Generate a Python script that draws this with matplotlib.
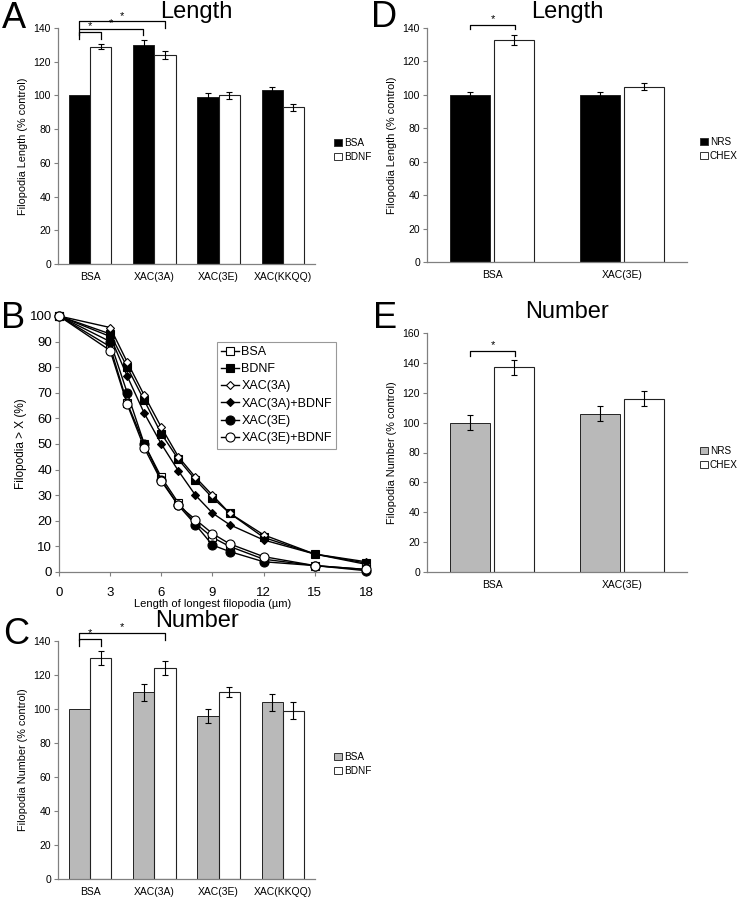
import numpy as np
import matplotlib
matplotlib.use('Agg')
import matplotlib.pyplot as plt
from matplotlib.patches import Patch

plt.rcParams['font.family'] = ['Liberation Sans', 'DejaVu Sans']

# --- data ---
groups4 = ['BSA', 'XAC(3A)', 'XAC(3E)', 'XAC(KKQQ)']
groups2 = ['BSA', 'XAC(3E)']

# A: filopodia length
lenA_bsa = [100, 130, 99, 103]
lenA_bsa_err = [0, 3, 2.5, 2]
lenA_bdnf = [129, 124, 100, 93]
lenA_bdnf_err = [1.5, 2.5, 2, 2]

# C: filopodia number
numC_bsa = [100, 110, 96, 104]
numC_bsa_err = [0, 5, 4, 5]
numC_bdnf = [130, 124, 110, 99]
numC_bdnf_err = [4, 4, 3, 5]

# D: length, NRS vs CHEX
lenD_nrs = [100, 100]
lenD_nrs_err = [2, 2]
lenD_chex = [133, 105]
lenD_chex_err = [3, 2]

# E: number, NRS vs CHEX
numE_nrs = [100, 106]
numE_nrs_err = [5, 5]
numE_chex = [137, 116]
numE_chex_err = [5, 5]

# B: cumulative distribution
cum_x = [0, 3, 4, 5, 6, 7, 8, 9, 10, 12, 15, 18]
cum_series = {
    'BSA':          [100, 88, 66, 50, 37, 27, 19, 13.5, 10, 5, 2.5, 1],
    'BDNF':         [100, 93, 80, 67, 54, 44, 36, 29, 23, 13.5, 7, 3.5],
    'XAC(3A)':      [100, 95.5, 82, 69, 56.5, 45, 37, 30, 23, 14.5, 7, 3],
    'XAC(3A)+BDNF': [100, 92, 76.5, 62, 50, 39.5, 30, 23, 18.5, 12.5, 7, 4],
    'XAC(3E)':      [100, 90, 70, 50, 36, 26, 18.5, 10.5, 8, 4, 2.5, 0.5],
    'XAC(3E)+BDNF': [100, 86.5, 65.5, 48.5, 35.5, 26, 20.5, 15, 11, 6, 2.5, 1],
}
cum_style = {
    'BSA':          dict(marker='s', mfc='white', ms=6),
    'BDNF':         dict(marker='s', mfc='black', ms=6),
    'XAC(3A)':      dict(marker='D', mfc='white', ms=4.5),
    'XAC(3A)+BDNF': dict(marker='D', mfc='black', ms=4.5),
    'XAC(3E)':      dict(marker='o', mfc='black', ms=6.5),
    'XAC(3E)+BDNF': dict(marker='o', mfc='white', ms=6.5),
}

W, H = 737, 900
fig = plt.figure(figsize=(W / 100, H / 100), dpi=100)


def px_axes(x0, y0, x1, y1):
    return fig.add_axes([x0 / W, 1 - y1 / H, (x1 - x0) / W, (y1 - y0) / H])


SPINE = '#808080'
GRAY = '#b9b9b9'


def style_bar_axes(ax, labels, ymax, ylabel):
    for s in ['top', 'right']:
        ax.spines[s].set_visible(False)
    for s in ['left', 'bottom']:
        ax.spines[s].set_color(SPINE)
        ax.spines[s].set_linewidth(0.9)
    ax.set_xlim(-0.5, len(labels) - 0.5)
    ax.set_ylim(0, ymax)
    ax.set_yticks(np.arange(0, ymax + 1, 20))
    ax.set_xticks(range(len(labels)))
    ax.set_xticklabels(labels)
    ax.tick_params(axis='x', length=0, labelsize=7.5, pad=6)
    ax.tick_params(axis='y', length=3, color=SPINE, labelsize=7.5, pad=2)
    ax.set_ylabel(ylabel, fontsize=7.8, labelpad=4)


def bracket(ax, x1, x2, y, d=4):
    ax.plot([x1, x1, x2, x2], [y - d, y, y, y - d], color='black', lw=0.9,
            clip_on=False)
    ax.text((x1 + x2) / 2, y + 0.5, '*', ha='center', va='bottom', fontsize=8)


def grouped(ax, v1, e1, v2, e2, c1, width, gap):
    x = np.arange(len(v1))
    ek = dict(ecolor='black', elinewidth=0.8, capsize=2.5, capthick=0.8)
    e1 = [e if e > 0 else np.nan for e in e1]
    ax.bar(x - width / 2 - gap / 2, v1, width, color=c1, edgecolor='#222222',
           linewidth=0.7, yerr=e1, error_kw=ek, zorder=2)
    ax.bar(x + width / 2 + gap / 2, v2, width, color='white', edgecolor='#222222',
           linewidth=0.8, yerr=e2, error_kw=ek, zorder=2)


def small_legend(labels, c1, x, y):
    handles = [Patch(facecolor=c1, edgecolor='#333333', linewidth=0.7),
               Patch(facecolor='white', edgecolor='#333333', linewidth=0.7)]
    fig.legend(handles, labels, loc='upper left', bbox_to_anchor=(x / W, 1 - y / H),
               frameon=False, fontsize=7.2, handlelength=0.75, handleheight=0.75,
               handletextpad=0.25, labelspacing=0.4, borderpad=0)


# --- A ---
axA = px_axes(58, 28, 315, 264)
grouped(axA, lenA_bsa, lenA_bsa_err, lenA_bdnf, lenA_bdnf_err, 'black', 0.33, 0)
style_bar_axes(axA, groups4, 140, 'Filopodia Length (% control)')
bracket(axA, -0.17, 0.17, 137.6, 4)
bracket(axA, -0.17, 0.83, 139.6, 4)
bracket(axA, -0.17, 1.17, 143.9, 4)
small_legend(['BSA', 'BDNF'], 'black', 329, 133)

# --- C ---
axC = px_axes(58, 641, 315, 879)
grouped(axC, numC_bsa, numC_bsa_err, numC_bdnf, numC_bdnf_err, GRAY, 0.33, 0)
style_bar_axes(axC, groups4, 140, 'Filopodia Number (% control)')
bracket(axC, -0.17, 0.17, 141.2, 4)
bracket(axC, -0.17, 1.17, 144.7, 4)
small_legend(['BSA', 'BDNF'], GRAY, 329, 747)

# --- D ---
axD = px_axes(427, 28, 687, 262)
grouped(axD, lenD_nrs, lenD_nrs_err, lenD_chex, lenD_chex_err, 'black', 0.31, 0.03)
style_bar_axes(axD, groups2, 140, 'Filopodia Length (% control)')
bracket(axD, -0.17, 0.18, 141.8, 2.6)
small_legend(['NRS', 'CHEX'], 'black', 695, 132)

# --- E ---
axE = px_axes(427, 333, 687, 572)
grouped(axE, numE_nrs, numE_nrs_err, numE_chex, numE_chex_err, GRAY, 0.31, 0.03)
style_bar_axes(axE, groups2, 160, 'Filopodia Number (% control)')
bracket(axE, -0.17, 0.18, 148, 3.5)
small_legend(['NRS', 'CHEX'], GRAY, 695, 441)

# --- B ---
axB = px_axes(59, 316, 366, 572)
for name, vals in cum_series.items():
    st = cum_style[name]
    axB.plot(cum_x, vals, color='black', lw=1.0, marker=st['marker'],
             mfc=st['mfc'], mec='black', mew=0.8, ms=st['ms'], label=name,
             clip_on=False, zorder=3)
axB.set_xlim(0, 18)
axB.set_ylim(0, 100)
axB.set_xticks(np.arange(0, 19, 3))
axB.set_yticks(np.arange(0, 101, 10))
for s in ['top', 'right']:
    axB.spines[s].set_visible(False)
for s in ['left', 'bottom']:
    axB.spines[s].set_color(SPINE)
    axB.spines[s].set_linewidth(0.9)
axB.tick_params(axis='both', length=3, color=SPINE, labelsize=9.5, pad=2)
axB.tick_params(axis='x', pad=8)
axB.set_xlabel('Length of longest filopodia (µm)', fontsize=8, labelpad=0)
axB.set_ylabel('Filopodia > X (%)', fontsize=8.5, labelpad=2)
legB = axB.legend(loc='upper left', bbox_to_anchor=(0.515, 0.9), fontsize=9,
                  frameon=True, fancybox=False, edgecolor=SPINE, handlelength=1.4,
                  handletextpad=0.2, labelspacing=0.42, borderpad=0.35,
                  borderaxespad=0)
legB.get_frame().set_linewidth(0.8)

# --- titles and panel letters ---
for txt, x, y in [('Length', 196, 12), ('Number', 197, 621),
                  ('Length', 567, 12), ('Number', 567, 312)]:
    fig.text(x / W, 1 - y / H, txt, ha='center', va='center', fontsize=17)
for txt, x, y in [('A', 2, 28), ('B', 1, 328), ('C', 3, 644),
                  ('D', 371, 27), ('E', 373, 328)]:
    fig.text(x / W, 1 - y / H, txt, ha='left', va='baseline', fontsize=26)

fig.savefig('out.png', dpi=100)
